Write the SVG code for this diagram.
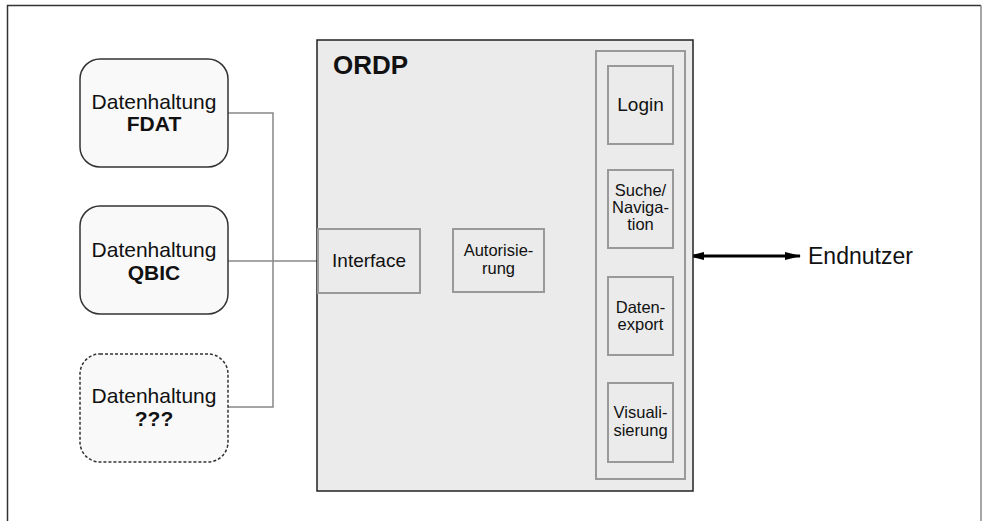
<svg xmlns="http://www.w3.org/2000/svg" width="982" height="521" viewBox="0 0 982 521">
<style>
text{font-family:"Liberation Sans",Arial,sans-serif;fill:#111;text-anchor:middle}
.store{fill:#f9f9f9;stroke:#333;stroke-width:1.5}
.dash{stroke-dasharray:3 2}
.inner{fill:#ebebeb;stroke:#999;stroke-width:2}
.conn{fill:none;stroke:#888;stroke-width:1.5}
.big{font-size:21px}
.b{font-weight:bold}
.mid{font-size:19px}
.sm{font-size:16.5px}
</style>
<defs>
<marker id="ah" viewBox="0 0 16 10" refX="15" refY="5" markerWidth="16" markerHeight="10" markerUnits="userSpaceOnUse" orient="auto-start-reverse">
<path d="M0,1 L16,5 L0,9 Z" fill="#000"/>
</marker>
</defs>
<rect width="982" height="521" fill="#fff"/>
<path d="M7.5,521 V5.5 H981" fill="none" stroke="#333" stroke-width="1.5"/>
<path d="M981,5.5 V521" fill="none" stroke="#888" stroke-width="1.5"/>

<g id="connectors">
<path class="conn" d="M228,113 H273 V407 H228"/>
<path class="conn" d="M228,261 H318"/>
<path class="conn" d="M420,260 H453"/>
<path class="conn" d="M544,257 H596"/>
<path d="M689,256 H800" fill="none" stroke="#000" stroke-width="3" marker-start="url(#ah)" marker-end="url(#ah)"/>
</g>

<g id="fdat">
<rect class="store" x="80" y="59" width="148" height="108" rx="20"/>
<text class="big" x="154" y="109">Datenhaltung</text>
<text class="big b" x="154" y="131">FDAT</text>
</g>
<g id="qbic">
<rect class="store" x="80" y="206" width="148" height="108" rx="20"/>
<text class="big" x="154" y="257">Datenhaltung</text>
<text class="big b" x="154" y="280">QBIC</text>
</g>
<g id="unknown">
<rect class="store dash" x="80" y="354" width="148" height="108" rx="20"/>
<text class="big" x="154" y="403">Datenhaltung</text>
<text class="big b" x="154" y="426">???</text>
</g>

<g id="ordp">
<rect x="317" y="40" width="376" height="451" fill="#ebebeb" stroke="#222" stroke-width="1.5"/>
<text x="333" y="74" font-size="26" font-weight="bold" style="text-anchor:start">ORDP</text>
</g>
<g id="column">
<rect class="inner" x="596" y="51" width="89" height="428"/>
</g>
<g id="interface">
<rect class="inner" x="318" y="229" width="102" height="64"/>
<text class="mid" x="369" y="267">Interface</text>
</g>
<g id="autorisierung">
<rect class="inner" x="453" y="229" width="91" height="63"/>
<text class="sm" x="498.5" y="256">Autorisie-</text>
<text class="sm" x="498.5" y="274">rung</text>
</g>
<g id="login">
<rect class="inner" x="608" y="66" width="65" height="78"/>
<text class="mid" x="640.5" y="111">Login</text>
</g>
<g id="suche">
<rect class="inner" x="608" y="170" width="65" height="78"/>
<text class="sm" x="640.5" y="196">Suche/</text>
<text class="sm" x="640.5" y="213">Naviga-</text>
<text class="sm" x="640.5" y="230">tion</text>
</g>
<g id="export">
<rect class="inner" x="608" y="277" width="65" height="78"/>
<text class="sm" x="640.5" y="313">Daten-</text>
<text class="sm" x="640.5" y="330">export</text>
</g>
<g id="visual">
<rect class="inner" x="608" y="383" width="65" height="79"/>
<text class="sm" x="640.5" y="418">Visuali-</text>
<text class="sm" x="640.5" y="436">sierung</text>
</g>
<g id="endnutzer">
<text x="808" y="264" font-size="23" style="text-anchor:start">Endnutzer</text>
</g>
</svg>
